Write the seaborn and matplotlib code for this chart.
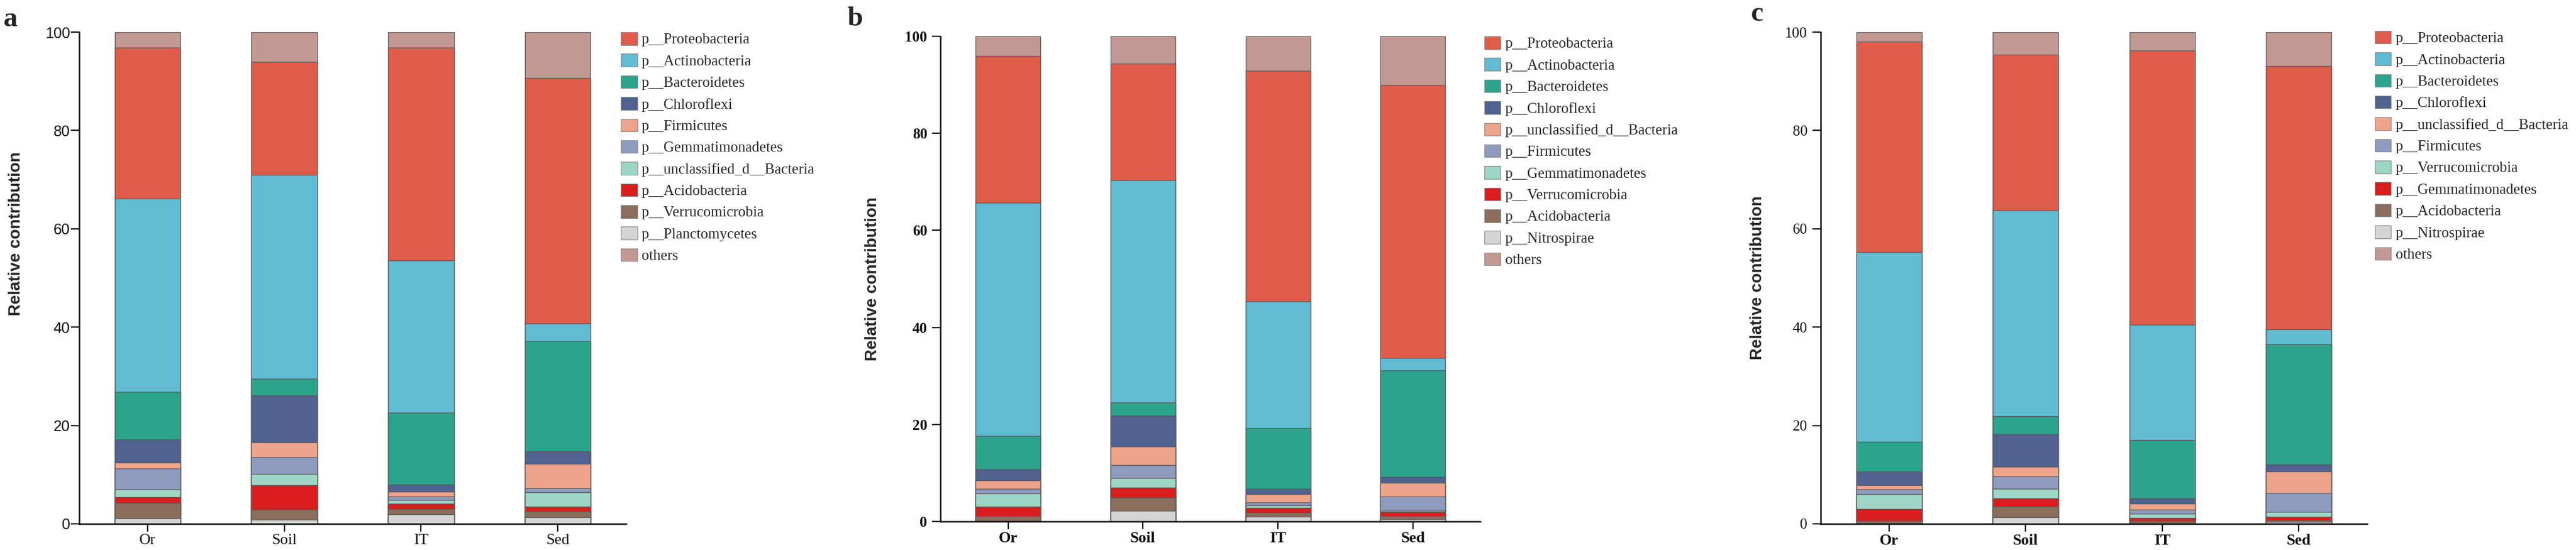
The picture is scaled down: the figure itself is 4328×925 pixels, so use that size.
import matplotlib
matplotlib.use("Agg")
import matplotlib.pyplot as plt
from matplotlib.patches import Patch
import seaborn as sns
import pandas as pd
import numpy as np

# ---------------- data ----------------
samples = ["Or", "Soil", "IT", "Sed"]

taxa_a = ["p__Proteobacteria", "p__Actinobacteria", "p__Bacteroidetes", "p__Chloroflexi",
          "p__Firmicutes", "p__Gemmatimonadetes", "p__unclassified_d__Bacteria",
          "p__Acidobacteria", "p__Verrucomicrobia", "p__Planctomycetes", "others"]
taxa_b = ["p__Proteobacteria", "p__Actinobacteria", "p__Bacteroidetes", "p__Chloroflexi",
          "p__unclassified_d__Bacteria", "p__Firmicutes", "p__Gemmatimonadetes",
          "p__Verrucomicrobia", "p__Acidobacteria", "p__Nitrospirae", "others"]
taxa_c = ["p__Proteobacteria", "p__Actinobacteria", "p__Bacteroidetes", "p__Chloroflexi",
          "p__unclassified_d__Bacteria", "p__Firmicutes", "p__Verrucomicrobia",
          "p__Gemmatimonadetes", "p__Acidobacteria", "p__Nitrospirae", "others"]

# values per sample, in legend order
a_or   = [30.7, 39.3, 9.6, 4.7, 1.25, 4.2, 1.6, 1.25, 3.1, 1.1, 3.2]
a_soil = [22.9, 41.5, 3.4, 9.5, 3.1, 3.3, 2.4, 4.9, 2.0, 0.9, 6.1]
a_it   = [43.3, 30.9, 14.7, 1.45, 0.9, 0.8, 0.75, 1.05, 1.05, 1.95, 3.15]
a_sed  = [49.9, 3.7, 22.4, 2.5, 4.95, 0.9, 2.9, 0.95, 1.2, 1.3, 9.3]

b_or   = [30.3, 48.0, 6.9, 2.4, 1.6, 1.05, 2.65, 2.0, 1.0, 0.1, 4.0]
b_soil = [24.0, 45.9, 2.7, 6.4, 3.8, 2.6, 2.0, 2.05, 2.75, 2.2, 5.6]
b_it   = [47.6, 26.1, 12.55, 1.05, 1.7, 0.6, 0.5, 1.05, 0.8, 1.0, 7.05]
b_sed  = [56.3, 2.6, 21.9, 1.25, 2.75, 2.95, 0.3, 0.8, 0.7, 0.45, 10.0]

c_or   = [42.9, 38.5, 6.1, 2.7, 0.9, 1.0, 3.0, 2.45, 0.4, 0.15, 1.9]
c_soil = [31.7, 41.8, 3.6, 6.7, 1.9, 2.6, 1.9, 1.7, 2.2, 1.3, 4.6]
c_it   = [55.7, 23.5, 11.85, 1.1, 1.15, 0.8, 0.95, 0.6, 0.3, 0.25, 3.8]
c_sed  = [53.6, 3.0, 24.4, 1.5, 4.3, 3.85, 1.05, 0.65, 0.35, 0.4, 6.9]

palette = ["#E05C4A", "#60BBD3", "#2CA48C", "#4F6290", "#EEA48A", "#8E9BBE",
           "#9ED6C6", "#DA1E1E", "#8A6E5B", "#D4D4D4", "#C29892"]

panels = [
    dict(label="a", taxa=taxa_a, vals=[a_or, a_soil, a_it, a_sed],
         rect=[0.0307, 0.0476, 0.2124, 0.894], leg=(0.2410, 0.9416),
         ylab_pos=(-0.101, 0.59), ytick_font="Liberation Sans", ytick_w="normal",
         xtick_w="normal", ytick_pad=1, lab_xy=(0.0012, 0.952)),
    dict(label="b", taxa=taxa_b, vals=[b_or, b_soil, b_it, b_sed],
         rect=[0.3651, 0.0519, 0.2096, 0.882], leg=(0.5762, 0.934),
         ylab_pos=(-0.112, 0.5), ytick_font="Liberation Serif", ytick_w="bold",
         xtick_w="bold", ytick_pad=6, lab_xy=(0.3288, 0.953)),
    dict(label="c", taxa=taxa_c, vals=[c_or, c_soil, c_it, c_sed],
         rect=[0.7068, 0.0476, 0.2121, 0.894], leg=(0.9219, 0.944),
         ylab_pos=(-0.101, 0.5), ytick_font="Liberation Serif", ytick_w="normal",
         xtick_w="bold", ytick_pad=6, lab_xy=(0.6795, 0.962)),
]

sns.set_theme(style="ticks")
plt.rcParams["font.family"] = ["Liberation Serif", "DejaVu Serif"]

fig = plt.figure(figsize=(43.28, 9.25), dpi=100)

for p in panels:
    ax = fig.add_axes(p["rect"])
    taxa = p["taxa"]
    vals = np.array(p["vals"])          # shape (4 samples, 11 taxa)
    n = len(taxa)
    # stacking from bottom: index n-2 (smallest) ... 0, then others (n-1) on top
    stack_order = list(range(n - 2, -1, -1)) + [n - 1]
    cum = np.cumsum(vals[:, stack_order], axis=1)  # tops of each layer
    rows = []
    for j, ti in enumerate(stack_order):
        for s_i, s in enumerate(samples):
            rows.append(dict(sample=s, taxon=taxa[ti], idx=ti, top=cum[s_i, j], level=j))
    df = pd.DataFrame(rows)
    # draw tallest first so shorter layers overlay
    for j in range(n - 1, -1, -1):
        sub = df[df["level"] == j]
        ti = stack_order[j]
        sns.barplot(data=sub, x="sample", y="top", order=samples, color=palette[ti],
                    saturation=1, width=0.48, edgecolor="#5a5a5a", linewidth=0.9,
                    errorbar=None, ax=ax)
    ax.set_xlim(-0.5, 3.5)
    ax.set_ylim(0, 100)
    ax.set_yticks([0, 20, 40, 60, 80, 100])
    ax.set_xlabel("")
    ax.set_ylabel("Relative contribution", fontsize=20, fontweight="bold",
                  family=["Liberation Sans", "DejaVu Sans"])
    ax.yaxis.set_label_coords(*p["ylab_pos"])
    for sp in ["top", "right"]:
        ax.spines[sp].set_visible(False)
    for sp in ["left", "bottom"]:
        ax.spines[sp].set_linewidth(1.8)
        ax.spines[sp].set_color("#111111")
    ax.tick_params(axis="y", length=10, width=1.6, pad=p["ytick_pad"], colors="#111111")
    ax.tick_params(axis="x", length=9, width=1.6, pad=3, colors="#111111")
    for t in ax.get_yticklabels():
        t.set_family([p["ytick_font"], "DejaVu Sans"])
        t.set_fontsize(18)
        t.set_fontweight(p["ytick_w"])
    for t in ax.get_xticklabels():
        t.set_family(["Liberation Serif", "DejaVu Serif"])
        t.set_fontsize(19)
        t.set_fontweight(p["xtick_w"])

    handles = [Patch(facecolor=palette[i], edgecolor="#8a8a8a", linewidth=0.8) for i in range(n)]
    ax.legend(handles, taxa, loc="upper left", bbox_to_anchor=p["leg"],
              bbox_transform=fig.transFigure, frameon=False, fontsize=18,
              borderpad=0, borderaxespad=0, labelspacing=0.48,
              handlelength=1.1, handleheight=0.95, handletextpad=0.3,
              prop=dict(family=["Liberation Serif", "DejaVu Serif"], size=18))

    fig.text(p["lab_xy"][0], p["lab_xy"][1], p["label"], fontsize=34, fontweight="bold",
             family=["Liberation Serif", "DejaVu Serif"], va="baseline", ha="left")

fig.savefig("out.png", dpi=100, facecolor="white")
